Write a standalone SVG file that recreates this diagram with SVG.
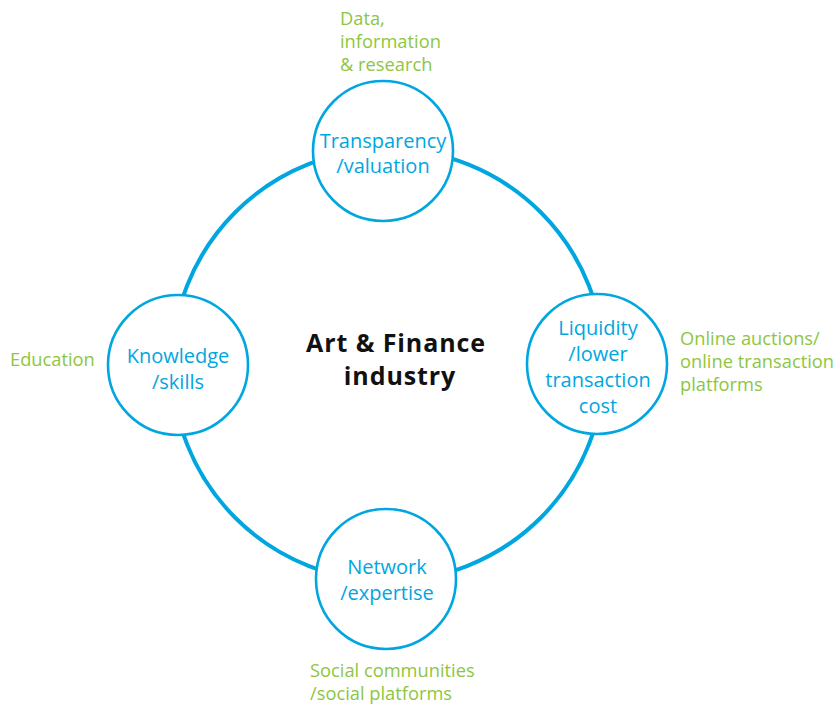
<svg xmlns="http://www.w3.org/2000/svg" width="837" height="704" viewBox="0 0 837 704">
<style>
.node{fill:#fff;stroke:#00a6e0;stroke-width:2.6}
.ring{fill:none;stroke:#00a6e0;stroke-width:4}
.lbl{font-family:"Open Sans","Noto Sans",sans-serif;font-size:20px;fill:#00a6e0;text-anchor:middle}
.side{font-family:"Open Sans","Noto Sans",sans-serif;font-size:18.3px;fill:#8dc63f}
.title{font-family:"Open Sans","Noto Sans",sans-serif;font-size:25px;font-weight:bold;fill:#111;text-anchor:middle;letter-spacing:0.9px}
</style>
<rect width="837" height="704" fill="#fff"/>
<g id="connectors">
<circle class="ring" cx="388" cy="365" r="216"/>
</g>
<g id="center">
<text class="title" x="396" y="352">Art &amp; Finance</text>
<text class="title" x="400" y="385">industry</text>
</g>
<g id="transparency">
<circle class="node" cx="383" cy="151" r="70"/>
<text class="lbl" x="383" y="148">Transparency</text>
<text class="lbl" x="383" y="173">/valuation</text>
<text class="side" x="340" y="25">Data,</text>
<text class="side" x="340" y="48">information</text>
<text class="side" x="340" y="71">&amp; research</text>
</g>
<g id="liquidity">
<circle class="node" cx="597" cy="364" r="70"/>
<text class="lbl" x="598" y="335">Liquidity</text>
<text class="lbl" x="598" y="361">/lower</text>
<text class="lbl" x="598" y="387">transaction</text>
<text class="lbl" x="598" y="413">cost</text>
<text class="side" x="680" y="345">Online auctions/</text>
<text class="side" x="680" y="368">online transaction</text>
<text class="side" x="680" y="391">platforms</text>
</g>
<g id="knowledge">
<circle class="node" cx="178" cy="365" r="70"/>
<text class="lbl" x="178" y="363">Knowledge</text>
<text class="lbl" x="178" y="389">/skills</text>
<text class="side" x="10" y="366">Education</text>
</g>
<g id="network">
<circle class="node" cx="386" cy="579" r="70"/>
<text class="lbl" x="387" y="574">Network</text>
<text class="lbl" x="387" y="600">/expertise</text>
<text class="side" x="310" y="677">Social communities</text>
<text class="side" x="310" y="700">/social platforms</text>
</g>
</svg>
